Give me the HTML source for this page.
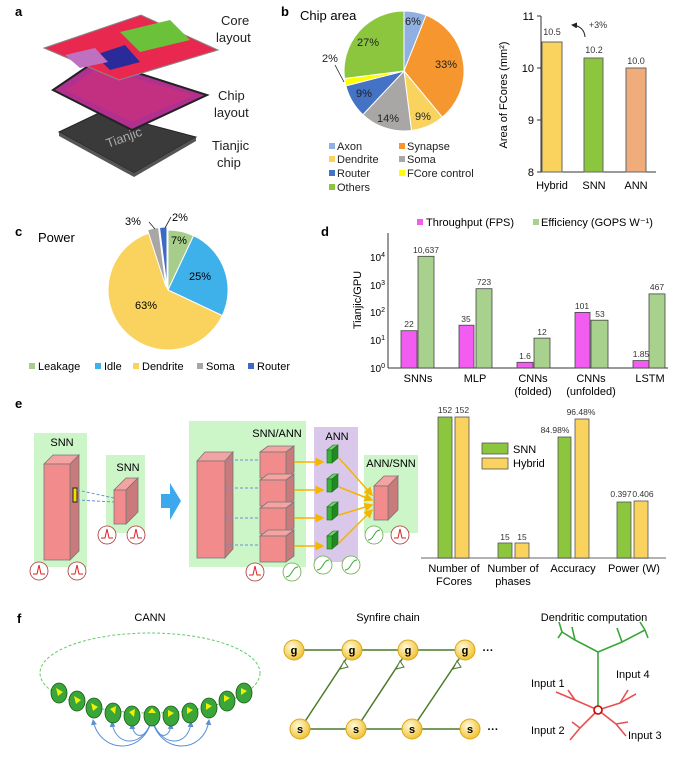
<!DOCTYPE html>
<html><head><meta charset="utf-8"><style>
body{margin:0;background:#fff}
svg{display:block;font-family:"Liberation Sans",sans-serif}
</style></head><body>
<svg width="680" height="763" viewBox="0 0 680 763" xmlns="http://www.w3.org/2000/svg">
<defs>
<marker id="ar" markerWidth="6" markerHeight="6" refX="5" refY="3" orient="auto"><path d="M0,0 L6,3 L0,6z" fill="#f5b400"/></marker>
<marker id="ab" markerWidth="6" markerHeight="6" refX="5" refY="3" orient="auto"><path d="M0,0 L6,3 L0,6z" fill="#5b8fd6"/></marker>
<marker id="ak" markerWidth="6" markerHeight="6" refX="5" refY="3" orient="auto"><path d="M0,0 L6,3 L0,6z" fill="#222"/></marker>
<radialGradient id="gy" cx="40%" cy="35%" r="65%"><stop offset="0" stop-color="#fffbe0"/><stop offset="1" stop-color="#f2c230"/></radialGradient>
</defs>
<g font-weight="bold" font-size="13"><text x="15" y="16">a</text><text x="281" y="16">b</text><text x="15" y="236">c</text><text x="321" y="236">d</text><text x="15" y="408">e</text><text x="17" y="623">f</text></g>

<!-- panel a -->
<polygon points="59,132 101,112 196,137 134,173" fill="#3a3a3a" stroke="#222"/>
<polygon points="59,136 134,177 196,141 196,137 134,173 59,132" fill="#555"/>
<text x="108" y="148" font-size="13" fill="#aaa" transform="rotate(-20 108 148)">Tianjic</text>
<polygon points="53,90 97,60 207,95 132,130" fill="#b0308f" stroke="#222" stroke-width="2"/>
<polygon points="65,90 98,68 195,95 132,122" fill="#d0307a" opacity=".6"/>
<polygon points="44,48 141,15 218,50 119,80" fill="#e8284f" stroke="#888"/>
<polygon points="120,32 170,20 190,40 140,52" fill="#6bc23a"/>
<polygon points="95,55 125,45 140,62 110,70" fill="#2a2a9a"/>
<polygon points="65,55 95,48 108,62 80,68" fill="#c070c0"/>
<g font-size="13" fill="#222"><text x="221" y="25">Core</text><text x="216" y="42">layout</text><text x="218" y="100">Chip</text><text x="214" y="117">layout</text><text x="212" y="150">Tianjic</text><text x="217" y="167">chip</text></g>

<!-- panel b pie -->
<text x="300" y="20" font-size="13">Chip area</text>
<g stroke="#fff" stroke-width="1">
<path d="M404,71 L404,11 A60,60 0 0 1 426.1,15.2Z" fill="#8fb0e0"/>
<path d="M404,71 L426.1,15.2 A60,60 0 0 1 442.3,117.2Z" fill="#f5962f"/>
<path d="M404,71 L442.3,117.2 A60,60 0 0 1 411.5,130.5Z" fill="#f9d35e"/>
<path d="M404,71 L411.5,130.5 A60,60 0 0 1 362.9,114.7Z" fill="#a9a6a6"/>
<path d="M404,71 L362.9,114.7 A60,60 0 0 1 345.9,85.9Z" fill="#4472c4"/>
<path d="M404,71 L345.9,85.9 A60,60 0 0 1 344.5,78.5Z" fill="#ffff00"/>
<path d="M404,71 L344.5,78.5 A60,60 0 0 1 404,11Z" fill="#8cc63f"/>
</g>
<g font-size="11" fill="#222"><text x="405" y="25">6%</text><text x="435" y="68">33%</text><text x="415" y="120">9%</text><text x="377" y="122">14%</text><text x="356" y="97">9%</text><text x="357" y="46">27%</text><text x="322" y="62">2%</text></g>
<line x1="335" y1="65" x2="344" y2="82" stroke="#222" stroke-width=".8"/>
<g font-size="11" fill="#222">
<rect x="329" y="143" width="6" height="6" fill="#8fb0e0"/><text x="337" y="150">Axon</text>
<rect x="399" y="143" width="6" height="6" fill="#f5962f"/><text x="407" y="150">Synapse</text>
<rect x="329" y="156" width="6" height="6" fill="#f9d35e"/><text x="337" y="163">Dendrite</text>
<rect x="399" y="156" width="6" height="6" fill="#a9a6a6"/><text x="407" y="163">Soma</text>
<rect x="329" y="170" width="6" height="6" fill="#4472c4"/><text x="337" y="177">Router</text>
<rect x="399" y="170" width="6" height="6" fill="#ffff00"/><text x="407" y="177">FCore control</text>
<rect x="329" y="184" width="6" height="6" fill="#8cc63f"/><text x="337" y="191">Others</text>
</g>
<!-- b bars -->
<line x1="541" y1="16" x2="541" y2="172" stroke="#333"/>
<line x1="541" y1="172" x2="656" y2="172" stroke="#333"/>
<g stroke="#333"><line x1="537" y1="16" x2="541" y2="16"/><line x1="537" y1="68" x2="541" y2="68"/><line x1="537" y1="120" x2="541" y2="120"/><line x1="537" y1="172" x2="541" y2="172"/></g>
<g font-size="11" text-anchor="end"><text x="534" y="20">11</text><text x="534" y="72">10</text><text x="534" y="124">9</text><text x="534" y="176">8</text></g>
<text transform="translate(507,95) rotate(-90)" font-size="11" text-anchor="middle">Area of FCores (mm²)</text>
<rect x="542" y="42" width="20" height="130" fill="#f9d35e" stroke="#666"/>
<rect x="584" y="58" width="19" height="114" fill="#8cc63f" stroke="#666"/>
<rect x="626" y="68" width="20" height="104" fill="#f0ac7a" stroke="#666"/>
<g font-size="9" text-anchor="middle" fill="#333"><text x="552" y="35">10.5</text><text x="594" y="53">10.2</text><text x="636" y="64">10.0</text><text x="598" y="28">+3%</text></g>
<path d="M585,37 Q584,26 572,25" fill="none" stroke="#222" marker-end="url(#ak)"/>
<g font-size="11" text-anchor="middle"><text x="552" y="189">Hybrid</text><text x="594" y="189">SNN</text><text x="636" y="189">ANN</text></g>

<!-- panel c -->
<text x="38" y="242" font-size="13">Power</text>
<g stroke="#fff" stroke-width="1">
<path d="M168,290 L168,230 A60,60 0 0 1 193.6,235.7Z" fill="#a6cd8a"/>
<path d="M168,290 L193.6,235.7 A60,60 0 0 1 222.3,315.6Z" fill="#3eb0ea"/>
<path d="M168,290 L222.3,315.6 A60,60 0 1 1 149.5,232.9Z" fill="#f9d35e"/>
<path d="M166,287 L147.5,229.9 A60,60 0 0 1 158.5,227.5Z" fill="#a9a6a6"/>
<path d="M167,287 L159.5,227.5 A60,60 0 0 1 167,227Z" fill="#3d6ac4"/>
</g>
<g font-size="11"><text x="171" y="244">7%</text><text x="189" y="280">25%</text><text x="135" y="309">63%</text><text x="125" y="225">3%</text><text x="172" y="221">2%</text></g>
<line x1="149" y1="222" x2="155" y2="229" stroke="#222" stroke-width=".8"/>
<line x1="171" y1="217" x2="165" y2="228" stroke="#222" stroke-width=".8"/>
<g font-size="11">
<rect x="29" y="363" width="6" height="6" fill="#a6cd8a"/><text x="38" y="370">Leakage</text>
<rect x="95" y="363" width="6" height="6" fill="#3eb0ea"/><text x="104" y="370">Idle</text>
<rect x="133" y="363" width="6" height="6" fill="#f9d35e"/><text x="142" y="370">Dendrite</text>
<rect x="197" y="363" width="6" height="6" fill="#a9a6a6"/><text x="206" y="370">Soma</text>
<rect x="248" y="363" width="6" height="6" fill="#3d6ac4"/><text x="257" y="370">Router</text>
</g>

<!-- panel d -->
<g font-size="11"><rect x="417" y="219" width="6" height="6" fill="#f25cf0"/><text x="426" y="226">Throughput (FPS)</text>
<rect x="533" y="219" width="6" height="6" fill="#a9d18e"/><text x="541" y="226">Efficiency (GOPS W⁻¹)</text></g>
<line x1="388" y1="233" x2="388" y2="368" stroke="#333"/>
<line x1="388" y1="368" x2="668" y2="368" stroke="#333"/>
<g font-size="10" text-anchor="end"><text x="385" y="372">10<tspan font-size="7" dy="-4">0</tspan></text><text x="385" y="344">10<tspan font-size="7" dy="-4">1</tspan></text><text x="385" y="316">10<tspan font-size="7" dy="-4">2</tspan></text><text x="385" y="289">10<tspan font-size="7" dy="-4">3</tspan></text><text x="385" y="261">10<tspan font-size="7" dy="-4">4</tspan></text></g>
<text transform="translate(361,300) rotate(-90)" font-size="11" text-anchor="middle">Tianjic/GPU</text>
<g stroke="#444" stroke-width=".8">
<rect x="401" y="330.7" width="16" height="37.3" fill="#f25cf0"/><rect x="418" y="256.3" width="16" height="111.7" fill="#a9d18e"/>
<rect x="459" y="325.2" width="15" height="42.8" fill="#f25cf0"/><rect x="476" y="288.7" width="16" height="79.3" fill="#a9d18e"/>
<rect x="517" y="362.3" width="16" height="5.7" fill="#f25cf0"/><rect x="534" y="338.1" width="16" height="29.9" fill="#a9d18e"/>
<rect x="575" y="312.4" width="15" height="55.6" fill="#f25cf0"/><rect x="591" y="320.2" width="17" height="47.8" fill="#a9d18e"/>
<rect x="633" y="360.6" width="16" height="7.4" fill="#f25cf0"/><rect x="649" y="293.9" width="16" height="74.1" fill="#a9d18e"/>
</g>
<g font-size="8.5" text-anchor="middle" fill="#333">
<text x="409" y="327">22</text><text x="426" y="253">10,637</text><text x="466" y="322">35</text><text x="484" y="285">723</text>
<text x="525" y="359">1.6</text><text x="542" y="335">12</text><text x="582" y="309">101</text><text x="600" y="317">53</text>
<text x="641" y="357">1.85</text><text x="657" y="290">467</text></g>
<g font-size="11" text-anchor="middle"><text x="418" y="382">SNNs</text><text x="475" y="382">MLP</text><text x="533" y="382">CNNs</text><text x="533" y="395">(folded)</text><text x="591" y="382">CNNs</text><text x="591" y="395">(unfolded)</text><text x="650" y="382">LSTM</text></g>

<!-- panel e diagram -->
<rect x="34" y="433" width="53" height="134" fill="#ccf5c8"/>
<rect x="106" y="455" width="39" height="78" fill="#ccf5c8"/>
<rect x="189" y="421" width="117" height="146" fill="#ccf5c8"/>
<rect x="314" y="427" width="44" height="135" fill="#d9c8ea"/>
<rect x="364" y="455" width="54" height="78" fill="#ccf5c8"/>
<g font-size="11" text-anchor="middle"><text x="62" y="446">SNN</text><text x="128" y="471">SNN</text><text x="277" y="437">SNN/ANN</text><text x="337" y="440">ANN</text><text x="391" y="467">ANN/SNN</text></g>
<g stroke="#777" stroke-width=".8">
<polygon points="44,464 70,464 79,455 53,455" fill="#f4a3a3"/><polygon points="70,464 79,455 79,551 70,560" fill="#c97a7a"/><rect x="44" y="464" width="26" height="96" fill="#f28b8b"/>
<polygon points="114,490 126,490 138,478 126,478" fill="#f4a3a3"/><polygon points="126,490 138,478 138,512 126,524" fill="#c97a7a"/><rect x="114" y="490" width="12" height="34" fill="#f28b8b"/>
<polygon points="197,461 225,461 233,452 205,452" fill="#f4a3a3"/><polygon points="225,461 233,452 233,549 225,558" fill="#c97a7a"/><rect x="197" y="461" width="28" height="97" fill="#f28b8b"/>
<polygon points="374,486 388,486 398,476 384,476" fill="#f4a3a3"/><polygon points="388,486 398,476 398,510 388,520" fill="#c97a7a"/><rect x="374" y="486" width="14" height="34" fill="#f28b8b"/>
</g>
<rect x="73" y="488" width="4" height="14" fill="#f2e000" stroke="#222"/>
<g stroke="#6a8fd6" stroke-dasharray="3,2" fill="none"><path d="M77,490 L114,498"/><path d="M77,500 L114,502"/><path d="M225,460 L260,460"/><path d="M225,488 L260,488"/><path d="M225,518 L260,518"/><path d="M225,545 L260,545"/></g>
<g stroke="#777" stroke-width=".8">
<g id="cb"><polygon points="260,452 286,452 294,446 268,446" fill="#f4a3a3"/><polygon points="286,452 294,446 294,472 286,478" fill="#c97a7a"/><rect x="260" y="452" width="26" height="26" fill="#f28b8b"/></g>
<use href="#cb" y="28"/><use href="#cb" y="56"/><use href="#cb" y="84"/>
</g>
<g stroke="#1d6b1d" stroke-width=".6">
<g id="gc"><polygon points="327,450 332,450 338,445 333,445" fill="#6cd66c"/><polygon points="332,450 338,445 338,458 332,463" fill="#1f8a1f"/><rect x="327" y="450" width="5" height="13" fill="#36b336"/></g>
<use href="#gc" y="29"/><use href="#gc" y="57"/><use href="#gc" y="86"/>
</g>
<g stroke="#f5b400" stroke-width="1.5" fill="none">
<line x1="294" y1="462" x2="323" y2="462" marker-end="url(#ar)"/><line x1="294" y1="490" x2="323" y2="490" marker-end="url(#ar)"/><line x1="294" y1="518" x2="323" y2="518" marker-end="url(#ar)"/><line x1="294" y1="546" x2="323" y2="546" marker-end="url(#ar)"/>
<line x1="339" y1="458" x2="372" y2="495" marker-end="url(#ar)"/><line x1="339" y1="487" x2="372" y2="500" marker-end="url(#ar)"/><line x1="339" y1="515" x2="372" y2="505" marker-end="url(#ar)"/><line x1="339" y1="543" x2="372" y2="510" marker-end="url(#ar)"/>
</g>
<path d="M161,494 L170,494 L170,483 L181,501 L170,520 L170,508 L161,508Z" fill="#3ea8ef"/>
<g fill="#fff" stroke="#a33" stroke-width=".8">
<circle cx="39" cy="571" r="9"/><circle cx="77" cy="571" r="9"/><circle cx="107" cy="535" r="9"/><circle cx="136" cy="535" r="9"/><circle cx="255" cy="572" r="9"/><circle cx="400" cy="535" r="9"/>
</g>
<g fill="#fff" stroke="#6a4" stroke-width=".8"><circle cx="292" cy="572" r="9"/><circle cx="323" cy="565" r="9"/><circle cx="351" cy="565" r="9"/><circle cx="374" cy="535" r="9"/></g>
<g fill="none" stroke="#d22" stroke-width="1">
<path d="M33,574 h4 l2,-9 l2,9 h4"/><path d="M71,574 h4 l2,-9 l2,9 h4"/><path d="M101,538 h4 l2,-9 l2,9 h4"/><path d="M130,538 h4 l2,-9 l2,9 h4"/><path d="M249,575 h4 l2,-9 l2,9 h4"/><path d="M394,538 h4 l2,-9 l2,9 h4"/></g>
<g fill="none" stroke="#3a3" stroke-width="1">
<path d="M286,577 C292,577 292,567 298,567"/><path d="M317,570 C323,570 323,560 329,560"/><path d="M345,570 C351,570 351,560 357,560"/><path d="M368,540 C374,540 374,530 380,530"/></g>

<!-- e bars -->
<line x1="421" y1="558" x2="666" y2="558" stroke="#999" stroke-width="1.5"/>
<g stroke="#555" stroke-width=".8">
<rect x="438" y="417" width="14" height="141" fill="#8cc63f"/><rect x="455" y="417" width="14" height="141" fill="#f9d35e"/>
<rect x="498" y="543" width="14" height="15" fill="#8cc63f"/><rect x="515" y="543" width="14" height="15" fill="#f9d35e"/>
<rect x="558" y="437" width="13" height="121" fill="#8cc63f"/><rect x="575" y="419" width="14" height="139" fill="#f9d35e"/>
<rect x="617" y="502" width="14" height="56" fill="#8cc63f"/><rect x="634" y="501" width="14" height="57" fill="#f9d35e"/>
<rect x="482" y="443" width="26" height="11" fill="#8cc63f"/><rect x="482" y="458" width="26" height="11" fill="#f9d35e"/>
</g>
<g font-size="11"><text x="513" y="453">SNN</text><text x="513" y="467">Hybrid</text></g>
<g font-size="8.5" text-anchor="middle" fill="#333"><text x="445" y="413">152</text><text x="462" y="413">152</text><text x="505" y="540">15</text><text x="522" y="540">15</text><text x="555" y="433">84.98%</text><text x="581" y="415">96.48%</text><text x="621" y="497">0.397</text><text x="643" y="497">0.406</text></g>
<g font-size="11" text-anchor="middle"><text x="454" y="572">Number of</text><text x="454" y="585">FCores</text><text x="513" y="572">Number of</text><text x="513" y="585">phases</text><text x="573" y="572">Accuracy</text><text x="634" y="572">Power (W)</text></g>

<!-- panel f -->
<g font-size="11" text-anchor="middle"><text x="150" y="621">CANN</text><text x="388" y="621">Synfire chain</text><text x="594" y="621">Dendritic computation</text></g>
<ellipse cx="150" cy="673" rx="110" ry="40" fill="none" stroke="#6c6" stroke-dasharray="3,2"/>
<g fill="none" stroke="#5b8fd6" stroke-width="1">
<path d="M152,718 C145,755 100,755 93,720" marker-end="url(#ab)"/><path d="M152,718 C145,748 115,748 112,722" marker-end="url(#ab)"/><path d="M152,718 C148,740 133,740 132,724" marker-end="url(#ab)"/>
<path d="M152,718 C159,755 204,755 209,720" marker-end="url(#ab)"/><path d="M152,718 C159,748 189,748 191,722" marker-end="url(#ab)"/><path d="M152,718 C156,740 170,740 171,724" marker-end="url(#ab)"/>
</g>
<g fill="#3aa63a" stroke="#1a5a1a" stroke-width=".8">
<ellipse cx="59" cy="693" rx="8" ry="10"/><ellipse cx="77" cy="701" rx="8" ry="10"/><ellipse cx="94" cy="708" rx="8" ry="10"/><ellipse cx="113" cy="713" rx="8" ry="10"/><ellipse cx="132" cy="716" rx="8" ry="10"/><ellipse cx="152" cy="716" rx="8" ry="10"/><ellipse cx="171" cy="716" rx="8" ry="10"/><ellipse cx="190" cy="713" rx="8" ry="10"/><ellipse cx="209" cy="708" rx="8" ry="10"/><ellipse cx="227" cy="701" rx="8" ry="10"/><ellipse cx="244" cy="693" rx="8" ry="10"/>
</g>
<g fill="#f0f000"><path d="M56,688 l7,4 l-5,4z"/><path d="M74,696 l7,4 l-5,4z"/><path d="M91,703 l7,4 l-5,4z"/><path d="M110,709 l6,-3 l-1,8z"/><path d="M129,712 l6,-3 l-1,8z"/><path d="M148,713 l4,-5 l4,5z"/><path d="M168,710 l6,3 l-6,4z"/><path d="M187,707 l6,3 l-6,4z"/><path d="M206,703 l6,3 l-6,4z"/><path d="M224,695 l6,3 l-6,4z"/><path d="M241,688 l6,3 l-6,4z"/></g>
<g stroke="#4a7a2a" stroke-width="1.5" fill="none">
<line x1="294" y1="650" x2="465" y2="650"/><line x1="300" y1="729" x2="470" y2="729"/>
<line x1="300" y1="729" x2="352" y2="650"/><line x1="356" y1="729" x2="408" y2="650"/><line x1="412" y1="729" x2="465" y2="650"/>
</g>
<g fill="#fff" stroke="#4a7a2a"><path d="M342,650 l7,-4 v8z"/><path d="M398,650 l7,-4 v8z"/><path d="M455,650 l7,-4 v8z"/><path d="M346,729 l7,-4 v8z"/><path d="M402,729 l7,-4 v8z"/><path d="M459,729 l7,-4 v8z"/><path d="M340,669 l4,-8 l4,6z"/><path d="M396,669 l4,-8 l4,6z"/><path d="M453,669 l4,-8 l4,6z"/></g>
<g fill="url(#gy)" stroke="#d8a820"><circle cx="294" cy="650" r="10"/><circle cx="352" cy="650" r="10"/><circle cx="408" cy="650" r="10"/><circle cx="465" cy="650" r="10"/><circle cx="300" cy="729" r="10"/><circle cx="356" cy="729" r="10"/><circle cx="412" cy="729" r="10"/><circle cx="470" cy="729" r="10"/></g>
<g font-size="11" text-anchor="middle" font-weight="bold"><text x="294" y="654">g</text><text x="352" y="654">g</text><text x="408" y="654">g</text><text x="465" y="654">g</text><text x="300" y="733">s</text><text x="356" y="733">s</text><text x="412" y="733">s</text><text x="470" y="733">s</text><text x="488" y="654">···</text><text x="493" y="733">···</text></g>
<g stroke="#3aa63a" stroke-width="1.6" fill="none">
<path d="M598,710 V652"/><path d="M598,652 L575,640 L562,632"/><path d="M575,640 L572,627"/><path d="M562,632 L559,622"/><path d="M562,632 L558,638"/>
<path d="M598,652 L622,642 L645,630"/><path d="M622,642 L617,628"/><path d="M645,630 L648,638"/><path d="M645,630 L640,622"/>
</g>
<g stroke="#e85050" stroke-width="1.6" fill="none">
<path d="M598,710 L575,700 L556,692"/><path d="M575,700 L568,690"/><path d="M598,710 L580,728 L570,740"/><path d="M580,728 L572,722"/><path d="M598,710 L620,703 L636,694"/><path d="M620,703 L628,690"/><path d="M598,710 L616,724 L626,736"/><path d="M616,724 L628,722"/></g>
<circle cx="598" cy="710" r="4" fill="#fff" stroke="#c00" stroke-width="1.6"/>
<g font-size="11"><text x="531" y="687">Input 1</text><text x="616" y="678">Input 4</text><text x="531" y="734">Input 2</text><text x="628" y="739">Input 3</text></g>
</svg>
</body></html>
